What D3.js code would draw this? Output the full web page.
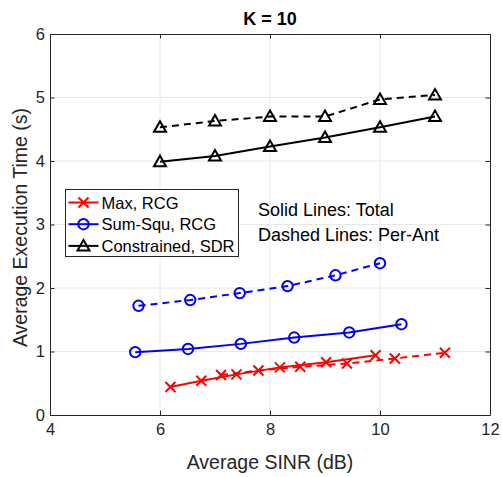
<!DOCTYPE html>
<html><head><meta charset="utf-8">
<script src="https://cdn.jsdelivr.net/npm/d3@7"></script>
<style>body{margin:0;background:#fff;} svg{display:block;font-family:Arial,"Liberation Sans",sans-serif;}</style>
</head><body>
<script>
// ---- data ----
const title = "K = 10";
const xLabel = "Average SINR (dB)";
const yLabel = "Average Execution Time (s)";
const xTicks = [4, 6, 8, 10, 12];
const yTicks = [0, 1, 2, 3, 4, 5, 6];

const maxTotalX   = [6.19, 6.75, 7.39, 8.18, 9.02, 9.92];
const maxTotalY   = [0.44, 0.54, 0.64, 0.75, 0.83, 0.94];
const maxPerX     = [7.11, 7.79, 8.55, 9.40, 10.27, 11.18];
const maxPerY     = [0.63, 0.70, 0.76, 0.81, 0.89, 0.98];

const sumTotalX   = [5.55, 6.51, 7.47, 8.44, 9.44, 10.39];
const sumTotalY   = [0.99, 1.04, 1.12, 1.22, 1.30, 1.43];
const sumPerX     = [5.61, 6.55, 7.45, 8.32, 9.19, 10.00];
const sumPerY     = [1.72, 1.81, 1.92, 2.03, 2.20, 2.39];

const conTotalX   = [6.0, 7.0, 8.0, 9.0, 10.0, 11.0];
const conTotalY   = [3.99, 4.08, 4.23, 4.37, 4.53, 4.70];
const conPerX     = [6.0, 7.0, 8.0, 9.0, 10.0, 11.0];
const conPerY     = [4.53, 4.63, 4.70, 4.70, 4.97, 5.04];

const legendNames = ["Max, RCG", "Sum-Squ, RCG", "Constrained, SDR"];
const annotation = ["Solid Lines: Total", "Dashed Lines: Per-Ant"];

const series = [
  {x: maxTotalX, y: maxTotalY, color: "#ff0000", marker: "x", dashed: false},
  {x: maxPerX,   y: maxPerY,   color: "#ff0000", marker: "x", dashed: true},
  {x: sumTotalX, y: sumTotalY, color: "#0000ff", marker: "o", dashed: false},
  {x: sumPerX,   y: sumPerY,   color: "#0000ff", marker: "o", dashed: true},
  {x: conTotalX, y: conTotalY, color: "#000000", marker: "^", dashed: false},
  {x: conPerX,   y: conPerY,   color: "#000000", marker: "^", dashed: true},
];
const legendSeries = [
  {name: legendNames[0], color: "#ff0000", marker: "x"},
  {name: legendNames[1], color: "#0000ff", marker: "o"},
  {name: legendNames[2], color: "#000000", marker: "^"},
];

// ---- layout ----
const W = 502, H = 477;
const L = 50, R = 490, T = 34, B = 415;
const axisColor = "#262626";
const FONT = "Arial, 'Liberation Sans', sans-serif";

const svg = d3.select("body").append("svg").attr("width", W).attr("height", H);
const x = d3.scaleLinear().domain([4, 12]).range([L, R]);
const y = d3.scaleLinear().domain([0, 6]).range([B, T]);

svg.append("rect").attr("x", L).attr("y", T).attr("width", R - L).attr("height", B - T).attr("fill", "#fff");

// grid
const grid = svg.append("g");
grid.selectAll(".gx").data(xTicks.slice(1, -1)).join("line")
  .attr("x1", d => x(d)).attr("x2", d => x(d)).attr("y1", T).attr("y2", B)
  .attr("stroke", "#e8e8e8").attr("stroke-width", 1);
grid.selectAll(".gy").data(yTicks.slice(1, -1)).join("line")
  .attr("y1", d => y(d)).attr("y2", d => y(d)).attr("x1", L).attr("x2", R)
  .attr("stroke", "#e8e8e8").attr("stroke-width", 1);

// axes
const tickLen = 4.5;
const xAxis = svg.append("g").attr("transform", `translate(0,${B})`)
  .call(d3.axisBottom(x).tickValues(xTicks).tickFormat(d3.format("d")).tickSizeInner(-tickLen).tickSizeOuter(0).tickPadding(8.5));
const yAxis = svg.append("g").attr("transform", `translate(${L},0)`)
  .call(d3.axisLeft(y).tickValues(yTicks).tickFormat(d3.format("d")).tickSizeInner(-tickLen).tickSizeOuter(0).tickPadding(5));
const xTop = svg.append("g").attr("transform", `translate(0,${T})`)
  .call(d3.axisTop(x).tickValues(xTicks).tickSizeInner(-tickLen).tickSizeOuter(0).tickFormat(""));
const yRight = svg.append("g").attr("transform", `translate(${R},0)`)
  .call(d3.axisRight(y).tickValues(yTicks).tickSizeInner(-tickLen).tickSizeOuter(0).tickFormat(""));
[xAxis, yAxis, xTop, yRight].forEach(g => {
  g.selectAll("path").attr("stroke", axisColor).attr("stroke-width", 1);
  g.selectAll("line").attr("stroke", axisColor).attr("stroke-width", 1);
  g.selectAll("text").attr("fill", axisColor).attr("font-size", 16.5).attr("font-family", FONT);
});

// series
function drawMarker(g, type, cx, cy, color) {
  if (type === "x") {
    const s = 5;
    g.append("path").attr("d", `M${cx - s},${cy - s}L${cx + s},${cy + s}M${cx - s},${cy + s}L${cx + s},${cy - s}`)
      .attr("stroke", color).attr("stroke-width", 2).attr("fill", "none");
  } else if (type === "o") {
    g.append("circle").attr("cx", cx).attr("cy", cy).attr("r", 5.2)
      .attr("stroke", color).attr("stroke-width", 2).attr("fill", "none");
  } else {
    const s = 6;
    g.append("path").attr("d", `M${cx},${cy - s}L${cx + s},${cy + s * 0.75}L${cx - s},${cy + s * 0.75}Z`)
      .attr("stroke", color).attr("stroke-width", 2).attr("fill", "none").attr("stroke-linejoin", "miter");
  }
}
const line = d3.line().x(d => x(d[0])).y(d => y(d[1]));
const plot = svg.append("g");
series.forEach(s => {
  const pts = s.x.map((v, i) => [v, s.y[i]]);
  plot.append("path").datum(pts).attr("d", line)
    .attr("fill", "none").attr("stroke", s.color).attr("stroke-width", 2)
    .attr("stroke-dasharray", s.dashed ? "7,5" : null);
  pts.forEach(p => drawMarker(plot, s.marker, x(p[0]), y(p[1]), s.color));
});

// legend
const lg = svg.append("g");
const lx = 65.5, ly = 189.5, lw = 173, lh = 67;
lg.append("rect").attr("x", lx).attr("y", ly).attr("width", lw).attr("height", lh)
  .attr("fill", "#fff").attr("stroke", axisColor).attr("stroke-width", 1);
legendSeries.forEach((s, i) => {
  const cy = ly + 13 + i * 21.7;
  lg.append("line").attr("x1", lx + 3).attr("x2", lx + 33).attr("y1", cy).attr("y2", cy)
    .attr("stroke", s.color).attr("stroke-width", 2);
  drawMarker(lg, s.marker, lx + 18, cy, s.color);
  lg.append("text").attr("x", lx + 36).attr("y", cy + 6).text(s.name)
    .attr("font-size", 16.5).attr("fill", "#000");
});

// annotation
annotation.forEach((t, i) => {
  svg.append("text").attr("x", 258).attr("y", 216 + i * 24.5).text(t)
    .attr("font-size", 18).attr("fill", "#000");
});

// labels
svg.append("text").attr("x", (L + R) / 2).attr("y", 25).attr("text-anchor", "middle")
  .attr("font-size", 18).attr("font-weight", "bold").attr("fill", "#000").text(title);
svg.append("text").attr("x", (L + R) / 2).attr("y", 469).attr("text-anchor", "middle")
  .attr("font-size", 19.5).attr("fill", axisColor).text(xLabel);
svg.append("text").attr("transform", `translate(27,${(T + B) / 2 + 3}) rotate(-90)`).attr("text-anchor", "middle")
  .attr("font-size", 19.5).attr("fill", axisColor).text(yLabel);
</script>
</body></html>
